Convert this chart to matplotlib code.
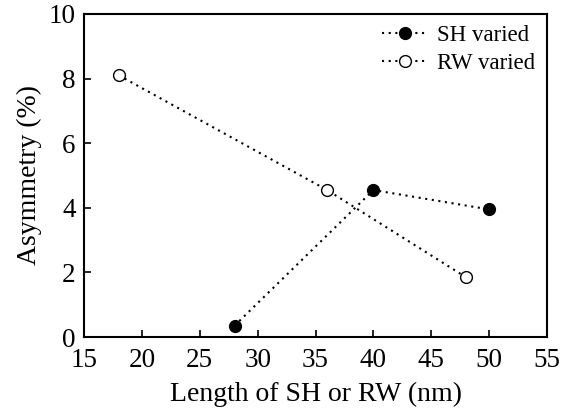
import matplotlib
matplotlib.use("Agg")
import matplotlib.pyplot as plt

plt.rcParams['font.family'] = ['Liberation Serif', 'DejaVu Serif']
plt.rcParams['mathtext.fontset'] = 'stix'

sh_x = [28, 40, 50]
sh_y = [0.35, 4.55, 3.95]
rw_x = [18, 36, 48]
rw_y = [8.1, 4.55, 1.85]
xticks = [15, 20, 25, 30, 35, 40, 45, 50, 55]
yticks = [0, 2, 4, 6, 8, 10]

fig = plt.figure(figsize=(5.68, 4.11), dpi=100)
ax = fig.add_axes([0.148, 0.180, 0.815, 0.786])

ax.plot(sh_x, sh_y, linestyle=(0, (1, 2.2)), color='black', lw=1.5,
        marker='o', markersize=8.5, markerfacecolor='black', markeredgecolor='black',
        label='SH varied')
ax.plot(rw_x, rw_y, linestyle=(0, (1, 2.2)), color='black', lw=1.5,
        marker='o', markersize=8.5, markerfacecolor='white', markeredgecolor='black',
        markeredgewidth=1.0, label='RW varied')

ax.set_xlim(15, 55)
ax.set_ylim(0, 10)
ax.set_xticks(xticks)
ax.set_yticks(yticks)
ax.tick_params(direction='in', length=5, width=1.2, labelsize=19.5, top=False, right=False)
ax.tick_params(axis='x', pad=8)
ax.tick_params(axis='y', pad=6)
for s in ax.spines.values():
    s.set_linewidth(1.5)

ax.set_xlabel('Length of SH or RW (nm)', fontsize=20, labelpad=6)
ax.set_ylabel('Asymmetry (%)', fontsize=20, labelpad=5)

ax.legend(loc='upper right', frameon=False, fontsize=16.5, handlelength=2.0,
          handletextpad=0.4, borderaxespad=0.1, labelspacing=0.3)

fig.savefig('out.png', dpi=100)
